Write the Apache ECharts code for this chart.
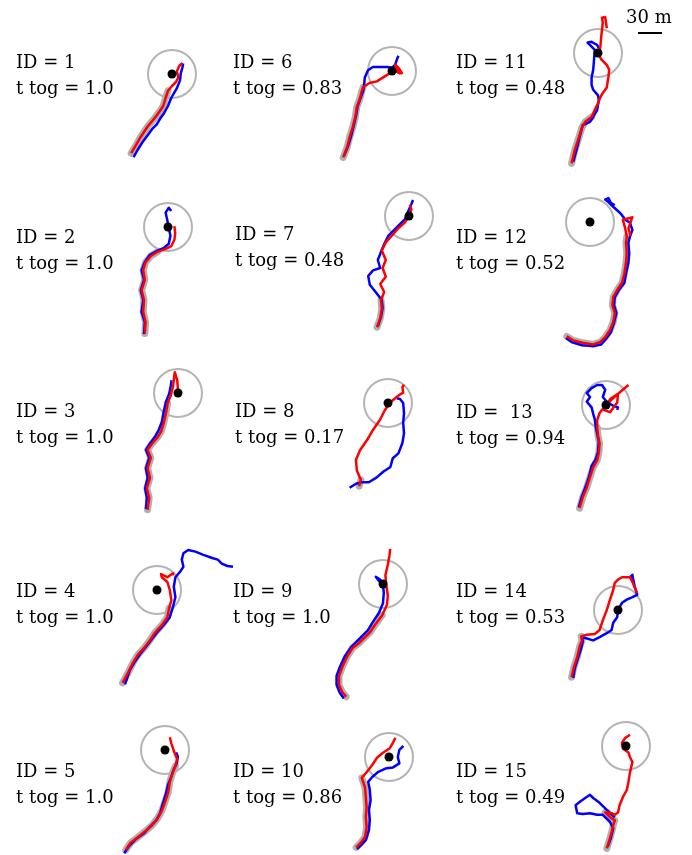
<!DOCTYPE html>
<html><head><meta charset="utf-8">
<script src="https://cdn.jsdelivr.net/npm/echarts@6/dist/echarts.min.js"></script>
<style>html,body{margin:0;padding:0;background:#fff}#c{width:692px;height:855px}</style>
</head><body><div id="c"></div>
<script>
// ---- data (metres, relative to each group's reference point; x east, y north) ----
const IDS = [1,2,3,4,5,6,7,8,9,10,11,12,13,14,15];
const ID_TEXT = ['1','2','3','4','5','6','7','8','9','10','11','12',' 13','14','15'];
const TOG = ['1.0','1.0','1.0','1.0','1.0','0.83','0.48','0.17','1.0','0.86','0.48','0.52','0.94','0.53','0.49'];
const ZONE_R = 30;      // radius of the zone circle, m
const SCALE_M = 30;     // scale bar, m
const GREY_N = [11,10,13,10,12, 9,4,2,11,9, 6,18,10,6,8]; // leading points travelled together

const red1 = [[-51,-99],[-45,-89],[-40,-80],[-34,-71],[-30,-65],[-25,-59],[-20,-53],[-15,-46],[-11,-40],[-8,-30],[-5,-21],[0,-15],[5,-10],[8,-4],[6,3],[9,10],[13,14]];
const blue1 = [[-48,-104],[-43,-95],[-36,-84],[-30,-76],[-25,-69],[-19,-63],[-15,-56],[-10,-49],[-5,-40],[-1,-30],[3,-23],[6,-18],[10,-8],[11,1],[13,8],[14,13]];
const red2 = [[-29,-133],[-28,-119],[-31,-106],[-30,-91],[-33,-79],[-29,-66],[-31,-54],[-28,-44],[-21,-36],[-13,-31],[-4,-28],[4,-24],[8,-16],[9,-8],[8,1]];
const blue2 = [[-30,-134],[-29,-119],[-33,-106],[-31,-91],[-34,-79],[-30,-66],[-33,-54],[-29,-44],[-23,-35],[-14,-30],[-5,-26],[1,-21],[3,-11],[1,-1],[-1,9],[-3,18],[1,24],[4,20]];
const red3 = [[-38,-146],[-36,-131],[-39,-119],[-35,-106],[-38,-94],[-34,-81],[-38,-71],[-33,-64],[-26,-56],[-21,-48],[-18,-38],[-15,-25],[-13,-13],[-9,-3],[-6,9],[-5,19],[-4,26],[-1,16],[0,4]];
const blue3 = [[-40,-145],[-39,-131],[-41,-119],[-38,-106],[-40,-94],[-36,-81],[-40,-71],[-35,-63],[-29,-55],[-24,-46],[-20,-36],[-18,-24],[-15,-11],[-11,-1],[-9,9],[-8,16]];
const red4 = [[-43,-116],[-36,-103],[-30,-91],[-24,-81],[-15,-71],[-9,-63],[-3,-54],[6,-44],[13,-34],[15,-23],[18,-13],[16,0],[13,10],[6,16],[5,20],[13,16],[20,21],[20,18]];
const blue4 = [[-40,-118],[-34,-100],[-28,-90],[-21,-80],[-13,-70],[-6,-61],[0,-53],[9,-43],[16,-34],[20,-21],[23,-9],[21,4],[23,16],[29,23],[33,29],[31,38],[33,46],[39,50],[48,48],[58,44],[69,40],[76,38],[81,33],[88,30],[95,29]];
const red5 = [[-49,-125],[-43,-116],[-34,-109],[-24,-101],[-16,-94],[-9,-85],[-4,-76],[0,-65],[4,-53],[6,-40],[9,-30],[13,-20],[15,-11],[11,-1],[8,8],[6,16]];
const blue5 = [[-51,-129],[-45,-120],[-36,-111],[-26,-104],[-19,-96],[-11,-88],[-6,-79],[-3,-68],[1,-55],[4,-43],[8,-33],[11,-24],[15,-16],[16,-8],[14,-3]];
const red6 = [[-61,-108],[-56,-95],[-53,-83],[-49,-70],[-46,-58],[-44,-45],[-40,-34],[-38,-26],[-36,-20],[-28,-15],[-19,-13],[-11,-8],[-3,-3],[4,0],[8,4],[10,-3],[6,-1],[4,8],[9,3],[13,-4]];
const blue6 = [[-60,-106],[-55,-94],[-51,-81],[-48,-69],[-45,-56],[-43,-44],[-39,-33],[-36,-25],[-35,-19],[-34,-8],[-30,1],[-24,5],[-15,5],[-6,5],[0,4],[4,8],[6,14],[8,19]];
const red7 = [[-40,-139],[-36,-128],[-34,-116],[-35,-105],[-31,-95],[-36,-85],[-29,-76],[-33,-65],[-29,-55],[-34,-43],[-29,-33],[-21,-24],[-13,-15],[-5,-8],[0,0],[3,8],[1,14]];
const blue7 = [[-39,-138],[-35,-126],[-33,-115],[-34,-105],[-41,-96],[-49,-86],[-51,-75],[-45,-68],[-36,-65],[-39,-55],[-35,-45],[-31,-35],[-26,-25],[-19,-18],[-11,-10],[-5,-4],[-1,6],[3,15],[5,20]];
const red8 = [[-36,-104],[-34,-96],[-39,-84],[-40,-71],[-35,-59],[-26,-46],[-19,-34],[-10,-21],[-4,-9],[3,1],[9,6],[14,10],[19,13],[18,20],[20,23]];
const blue8 = [[-48,-106],[-40,-101],[-33,-99],[-24,-99],[-14,-93],[-6,-86],[3,-80],[6,-69],[13,-63],[18,-50],[20,-38],[19,-25],[20,-13],[19,0],[15,5],[11,6]];
const red9 = [[-46,-141],[-51,-135],[-55,-126],[-55,-115],[-51,-104],[-45,-91],[-38,-80],[-29,-73],[-16,-60],[-10,-51],[-1,-39],[5,-26],[6,-14],[4,-1],[3,11],[6,24],[8,35],[9,44]];
const blue9 = [[-49,-143],[-54,-136],[-58,-126],[-58,-115],[-54,-104],[-48,-91],[-40,-79],[-31,-70],[-19,-58],[-13,-48],[-5,-36],[0,-24],[1,-11],[0,-1],[-6,5],[-9,9],[-4,6],[1,-1]];
const red10 = [[-41,-113],[-36,-108],[-30,-100],[-28,-88],[-29,-75],[-28,-63],[-29,-50],[-30,-38],[-34,-26],[-28,-19],[-21,-10],[-15,-1],[-8,5],[1,11],[5,18],[8,24]];
const blue10 = [[-40,-115],[-35,-110],[-29,-104],[-25,-91],[-24,-79],[-25,-66],[-23,-54],[-24,-41],[-26,-31],[-21,-25],[-14,-19],[-3,-14],[5,-13],[13,-8],[11,0],[13,9],[18,14]];
const red11 = [[-33,-138],[-29,-121],[-25,-109],[-20,-93],[-16,-86],[-8,-80],[-4,-71],[0,-63],[3,-55],[6,-50],[11,-43],[13,-30],[14,-21],[11,-15],[5,-9],[1,-3],[3,8],[4,20],[5,29],[6,38],[5,44],[9,45],[11,31]];
const blue11 = [[-31,-136],[-26,-118],[-23,-105],[-19,-90],[-10,-86],[-6,-80],[-1,-71],[1,-59],[0,-53],[-6,-46],[-8,-40],[-8,-31],[-6,-21],[-5,-9],[-4,4],[-13,13],[-14,14],[-8,14],[-1,10],[1,6]];
const red12 = [[-29,-143],[-21,-148],[-9,-151],[4,-153],[13,-150],[19,-144],[25,-135],[29,-125],[31,-114],[28,-104],[29,-94],[34,-85],[40,-76],[43,-64],[45,-51],[46,-39],[45,-26],[46,-18],[44,-8],[41,3],[50,5],[53,6],[48,-8],[51,-18]];
const blue12 = [[-30,-145],[-23,-150],[-10,-154],[4,-155],[14,-153],[20,-146],[26,-138],[30,-126],[33,-114],[30,-104],[31,-94],[36,-85],[43,-76],[45,-64],[48,-51],[49,-39],[48,-26],[50,-18],[53,-10],[50,-1],[44,3],[38,11],[29,19],[23,25],[19,28],[23,30],[26,24],[31,21]];
const red13 = [[-33,-129],[-29,-115],[-24,-103],[-20,-90],[-16,-78],[-11,-69],[-9,-60],[-8,-48],[-10,-38],[-11,-28],[-11,-19],[-8,-10],[-1,-1],[6,8],[15,14],[14,3],[5,-9],[-3,-6],[5,5],[14,13],[21,19],[28,25]];
const blue13 = [[-34,-128],[-30,-114],[-25,-101],[-21,-89],[-18,-76],[-13,-68],[-10,-59],[-9,-46],[-11,-36],[-13,-26],[-14,-18],[-16,-11],[-18,-3],[-24,4],[-20,10],[-24,15],[-18,21],[-11,25],[-5,25],[-1,19],[-4,10],[1,4],[9,-1],[15,-3],[14,-6]];
const red14 = [[-58,-84],[-55,-71],[-51,-59],[-48,-46],[-45,-38],[-46,-33],[-39,-31],[-29,-30],[-23,-25],[-19,-13],[-14,0],[-10,13],[-6,25],[-4,34],[0,38],[5,41],[11,41],[15,41],[18,35],[21,28],[24,21]];
const blue14 = [[-56,-85],[-54,-73],[-50,-60],[-46,-48],[-44,-39],[-45,-34],[-41,-35],[-31,-38],[-23,-34],[-14,-29],[-8,-25],[-6,-16],[-1,-9],[0,0],[5,9],[11,13],[18,16],[24,19],[21,29],[19,38],[18,44],[15,41],[19,40]];
const red15 = [[-24,-128],[-20,-115],[-18,-108],[-16,-99],[-14,-93],[-20,-89],[-26,-83],[-23,-83],[-18,-84],[-14,-86],[-10,-83],[-8,-74],[-4,-64],[1,-55],[3,-45],[5,-33],[8,-20],[5,-14],[3,-8],[-4,-3],[-5,4],[-1,10],[5,14]];
const blue15 = [[-23,-126],[-19,-115],[-16,-103],[-20,-95],[-29,-86],[-36,-86],[-45,-84],[-54,-85],[-61,-84],[-63,-74],[-58,-70],[-51,-65],[-45,-61],[-41,-65],[-33,-71],[-26,-78],[-20,-84],[-14,-89]];

const REDS = [red1,red2,red3,red4,red5,red6,red7,red8,red9,red10,red11,red12,red13,red14,red15];
const BLUES = [blue1,blue2,blue3,blue4,blue5,blue6,blue7,blue8,blue9,blue10,blue11,blue12,blue13,blue14,blue15];

// ---- layout (pixels) ----
const M_PER_PX = 1.25;
const PANEL_CENTER = [[172,74],[168,227],[178,393],[157,590],[165,750],
                      [392,71],[409,216],[388,403],[383,584],[389,757],
                      [598,53],[590,222],[606,405],[618,610],[626,746]];
const LABEL_POS = [[16,62],[16,237],[16,411],[16,591],[16,771],
                   [233,62],[235,234],[235,411],[233,591],[233,771],
                   [456,62],[456,237],[456,412],[456,591],[456,771]];
const GW = 260, GH = 340;
const FONT = '18px "DejaVu Serif", "Liberation Serif", serif';

const chart = echarts.init(document.getElementById('c'), null, {renderer:'canvas'});
const grids = [], xAxes = [], yAxes = [], series = [], graphics = [];
IDS.forEach((id, i) => {
  const [cx, cy] = PANEL_CENTER[i];
  grids.push({left: cx - GW/2, top: cy - GH/2, width: GW, height: GH, containLabel:false, outerBoundsMode:'none'});
  xAxes.push({type:'value', gridIndex:i, min:-GW/2*M_PER_PX, max:GW/2*M_PER_PX, show:false});
  yAxes.push({type:'value', gridIndex:i, min:-GH/2*M_PER_PX, max:GH/2*M_PER_PX, show:false});
  series.push({
    type:'custom', xAxisIndex:i, yAxisIndex:i, data:[[0,0]], z:1, silent:true, clip:false,
    renderItem:(params, api) => {
      const c = api.coord([api.value(0), api.value(1)]);
      const r = api.size([ZONE_R, 0])[0];
      return {type:'circle', shape:{cx:c[0], cy:c[1], r:r}, style:{fill:'none', stroke:'#b4b4b4', lineWidth:2}};
    }
  });
  series.push({type:'line', xAxisIndex:i, yAxisIndex:i, data:REDS[i].slice(0, GREY_N[i]), z:2, showSymbol:false, silent:true, clip:false,
    lineStyle:{color:'#b0b0b0', width:7, cap:'round', join:'round', opacity:1}});
  series.push({type:'line', xAxisIndex:i, yAxisIndex:i, data:BLUES[i], z:3, showSymbol:false, silent:true, clip:false,
    lineStyle:{color:'#0000ff', width:2.5, join:'round', opacity:1}});
  series.push({type:'line', xAxisIndex:i, yAxisIndex:i, data:REDS[i], z:4, showSymbol:false, silent:true, clip:false,
    lineStyle:{color:'#ff0000', width:2.5, join:'round', opacity:1}});
  series.push({type:'scatter', xAxisIndex:i, yAxisIndex:i, data:[[0,0]], z:5, silent:true, symbolSize:9,
    itemStyle:{color:'#000000', opacity:1}});
  const [lx, ly] = LABEL_POS[i];
  graphics.push({type:'text', left:lx, top:ly-8, silent:true,
    style:{text:'ID = ' + ID_TEXT[i], font:FONT, fill:'#000'}});
  graphics.push({type:'text', left:lx, top:ly+18, silent:true,
    style:{text:'t tog = ' + TOG[i], font:FONT, fill:'#000'}});
});
const barPx = SCALE_M / M_PER_PX;
graphics.push({type:'text', left:626, top:9, silent:true, style:{text: SCALE_M + ' m', font:FONT, fill:'#000'}});
graphics.push({type:'line', silent:true, shape:{x1:638, y1:33, x2:638 + barPx, y2:33}, style:{stroke:'#000', lineWidth:2}});

chart.setOption({
  animation:false,
  backgroundColor:'#fff',
  grid: grids, xAxis: xAxes, yAxis: yAxes, series: series, graphic: graphics
});
</script></body></html>
